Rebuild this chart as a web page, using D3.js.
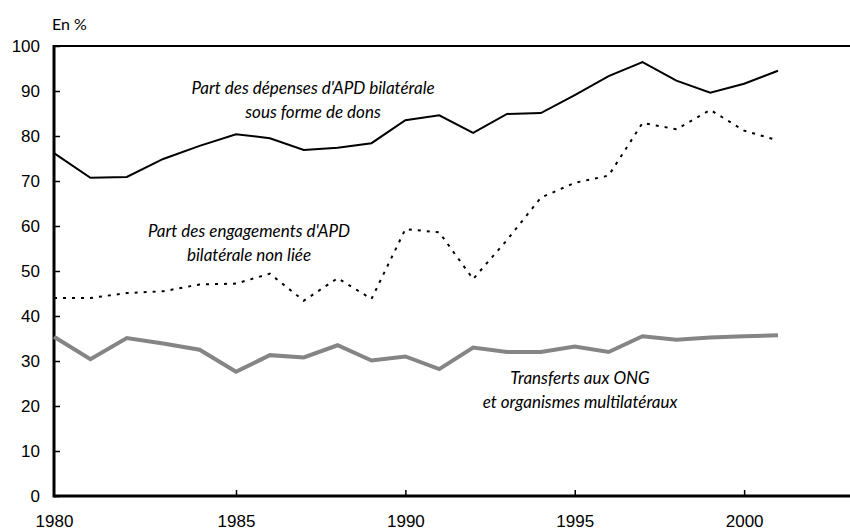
<!DOCTYPE html>
<html>
<head>
<meta charset="utf-8">
<script src="https://cdn.jsdelivr.net/npm/d3@7"></script>
<style>
  body { margin: 0; background: #fff; }
  svg { display: block; font-family: "Lato", "Open Sans", sans-serif; }
  .tick text { font-size: 17px; fill: #000; }
  .lbl { font-size: 17px; font-style: italic; fill: #000; }
</style>
</head>
<body>
<div id="chart"></div>
<script>
// years and series (en %)
var years = d3.range(1980, 2002);
var dons = [76.2, 70.7, 70.9, 74.9, 77.8, 80.4, 79.5, 76.9, 77.4, 78.4, 83.5, 84.6, 80.7, 84.9, 85.1, 89.1, 93.3, 96.4, 92.3, 89.6, 91.6, 94.5];
var nonLiee = [44.0, 44.0, 45.1, 45.5, 47.0, 47.2, 49.4, 43.4, 48.4, 43.8, 59.3, 58.6, 48.2, 56.9, 66.3, 69.6, 71.2, 82.9, 81.5, 85.8, 81.2, 79.0];
var ong = [35.4, 30.4, 35.1, 33.9, 32.5, 27.6, 31.3, 30.8, 33.5, 30.1, 31.0, 28.2, 33.0, 32.0, 32.0, 33.2, 32.0, 35.5, 34.7, 35.2, 35.5, 35.7];
var xTicks = [1980, 1985, 1990, 1995, 2000];
var yTicks = [0, 10, 20, 30, 40, 50, 60, 70, 80, 90, 100];

var width = 850, height = 532;
var mLeft = 54, mTop = 46, mBottom = 496, mRight = 850;

var svg = d3.select('#chart').append('svg')
	.attr('width', width)
	.attr('height', height);

// the source axis is a bit wider between 1980 and 1985
var x = d3.scaleLinear().domain([1980, 1985, 2001]).range([mLeft, 236, 778]);
var y = d3.scaleLinear().domain([0, 100]).range([mBottom, mTop]);

// axes
var yAxis = svg.append('g')
	.attr('transform', 'translate(' + mLeft + ',0)')
	.call(d3.axisLeft(y).tickValues(yTicks).tickSize(-6).tickSizeOuter(0).tickPadding(14));
var xAxis = svg.append('g')
	.attr('transform', 'translate(0,' + mBottom + ')')
	.call(d3.axisBottom(x).tickValues(xTicks).tickFormat(d3.format('d')).tickSize(-6).tickSizeOuter(0).tickPadding(19));
svg.selectAll('.domain').remove();
svg.selectAll('.tick line').attr('stroke', '#000').attr('stroke-width', 1.5);
svg.selectAll('.tick text').attr('font-family', null);
xAxis.selectAll('.tick').filter(function(d) { return d === 1980; }).select('line').remove();

// frame
svg.append('line')
	.attr('x1', mLeft).attr('x2', mRight)
	.attr('y1', mTop).attr('y2', mTop)
	.attr('stroke', '#000').attr('stroke-width', 2);
svg.append('line')
	.attr('x1', mLeft).attr('x2', mRight)
	.attr('y1', mBottom).attr('y2', mBottom)
	.attr('stroke', '#000').attr('stroke-width', 3);
svg.append('line')
	.attr('x1', mLeft).attr('x2', mLeft)
	.attr('y1', mTop - 1).attr('y2', mBottom + 1.5)
	.attr('stroke', '#000').attr('stroke-width', 3);

var line = d3.line()
	.x(function(d, i) { return x(years[i]); })
	.y(function(d) { return y(d); });

svg.append('path')
	.datum(ong)
	.attr('d', line)
	.attr('fill', 'none')
	.attr('stroke', '#858585')
	.attr('stroke-width', 4);

svg.append('path')
	.datum(nonLiee)
	.attr('d', line)
	.attr('fill', 'none')
	.attr('stroke', '#000')
	.attr('stroke-width', 2)
	.attr('stroke-dasharray', '3,6');

svg.append('path')
	.datum(dons)
	.attr('d', line)
	.attr('fill', 'none')
	.attr('stroke', '#000')
	.attr('stroke-width', 2);

// text labels
svg.append('text').attr('x', 52).attr('y', 30).style('font-size', '16px').text('En %');

function label(lines, cx, cy) {
	lines.forEach(function(t, i) {
		svg.append('text').attr('class', 'lbl')
			.attr('x', cx).attr('y', cy + i * 24)
			.attr('text-anchor', 'middle')
			.text(t);
	});
}
label(["Part des dépenses d'APD bilatérale", 'sous forme de dons'], 313, 94);
label(["Part des engagements d'APD", 'bilatérale non liée'], 249, 237);
label(['Transferts aux ONG', 'et organismes multilatéraux'], 580, 384);
</script>
</body>
</html>
